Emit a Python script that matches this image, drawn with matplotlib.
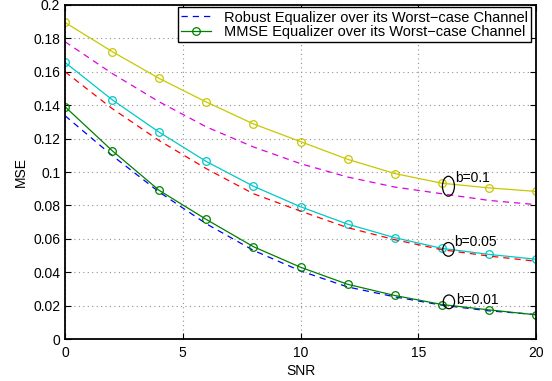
import matplotlib
matplotlib.use("Agg")
import matplotlib.pyplot as plt
from matplotlib.patches import Ellipse

plt.rcParams['font.family'] = ['Liberation Sans', 'DejaVu Sans']

snr = [0, 2, 4, 6, 8, 10, 12, 14, 16, 18, 20]

# b = 0.1
mmse_b01 = [0.1895, 0.1721, 0.1560, 0.1419, 0.1288, 0.1182, 0.1076, 0.0991, 0.0933, 0.0905, 0.0884]
robust_b01 = [0.178, 0.159, 0.142, 0.127, 0.115, 0.105, 0.097, 0.091, 0.087, 0.083, 0.0805]
# b = 0.05
mmse_b005 = [0.1656, 0.1433, 0.1238, 0.1063, 0.0915, 0.0792, 0.0688, 0.0607, 0.0543, 0.0507, 0.0478]
robust_b005 = [0.160, 0.138, 0.1188, 0.102, 0.087, 0.0766, 0.0667, 0.0595, 0.0535, 0.0497, 0.0466]
# b = 0.01
mmse_b001 = [0.1391, 0.1128, 0.089, 0.0716, 0.0553, 0.043, 0.0328, 0.0261, 0.0207, 0.0175, 0.0145]
robust_b001 = [0.1337, 0.1099, 0.088, 0.069, 0.0531, 0.0408, 0.0312, 0.0253, 0.0203, 0.0169, 0.0147]

labels = ["b=0.1", "b=0.05", "b=0.01"]
legend_labels = ["Robust Equalizer over its Worst\u2212case Channel",
                 "MMSE Equalizer over its Worst\u2212case Channel"]

fig = plt.figure(figsize=(5.52, 3.81), dpi=100)
ax = fig.add_axes([0.1178, 0.110, 0.8533, 0.877])

mk = dict(marker='o', markersize=5.5, markerfacecolor='none', markeredgewidth=0.9, linewidth=0.9)
dash = dict(linestyle=(0, (5, 4)), linewidth=0.9)

ax.plot(snr, mmse_b01, color='#c8c800', **mk)
ax.plot(snr, robust_b01, color='#e000e0', **dash)
ax.plot(snr, mmse_b005, color='#00c8c8', **mk)
ax.plot(snr, robust_b005, color='#ff0000', **dash)
h1, = ax.plot(snr, robust_b001, color='#0000ff', **dash)
h2, = ax.plot(snr, mmse_b001, color='#008000', **mk)

# ellipses and annotations
ells = [(16.28, 0.0915, 0.51, 0.0119), (16.28, 0.0537, 0.48, 0.0082), (16.3, 0.0223, 0.48, 0.0082)]
txt = [(16.56, 0.0967), (16.52, 0.0581), (16.6, 0.0233)]
for (cx, cy, w, h), (tx, ty), lab in zip(ells, txt, labels):
    ax.add_patch(Ellipse((cx, cy), w, h, fill=False, edgecolor='black', linewidth=0.9, zorder=5))
    ax.text(tx, ty, lab, fontsize=10, va='center', ha='left')

ax.set_xlim(0, 20)
ax.set_ylim(0, 0.2)
ax.set_xticks([0, 5, 10, 15, 20])
ax.set_yticks([0, 0.02, 0.04, 0.06, 0.08, 0.1, 0.12, 0.14, 0.16, 0.18, 0.2])
ax.set_yticklabels(['0', '0.02', '0.04', '0.06', '0.08', '0.1', '0.12', '0.14', '0.16', '0.18', '0.2'])
ax.tick_params(direction='in', top=True, right=True, labelsize=10, length=4, width=0.8)
ax.tick_params(axis='x', pad=5)
ax.grid(True, linestyle=(0, (1, 3)), color='#909090', linewidth=0.8)
for s in ax.spines.values():
    s.set_linewidth(1.3)
ax.set_xlabel('SNR', fontsize=10, labelpad=3)
ax.set_ylabel('MSE', fontsize=10, labelpad=4)

leg = ax.legend([h1, h2], legend_labels, loc='upper right', bbox_to_anchor=(0.989, 0.993),
                fontsize=10.5, fancybox=False, framealpha=1, edgecolor='black',
                borderpad=0.22, labelspacing=0.05, handlelength=2.0, handletextpad=0.9,
                borderaxespad=0)
leg.get_frame().set_linewidth(1.0)

fig.savefig('out.png', dpi=100)
